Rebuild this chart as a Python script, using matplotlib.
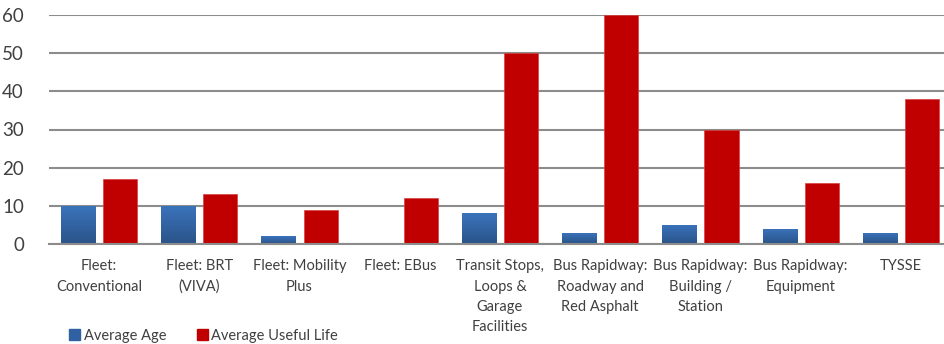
import matplotlib.pyplot as plt
import numpy as np
from matplotlib.colors import LinearSegmentedColormap
from matplotlib.patches import Patch

categories = ["Fleet:\nConventional", "Fleet: BRT\n(VIVA)", "Fleet: Mobility\nPlus",
              "Fleet: EBus", "Transit Stops,\nLoops &\nGarage\nFacilities",
              "Bus Rapidway:\nRoadway and\nRed Asphalt", "Bus Rapidway:\nBuilding /\nStation",
              "Bus Rapidway:\nEquipment", "TYSSE"]
average_age = [10, 10, 2, 0, 8, 3, 5, 4, 3]
useful_life = [17, 13, 9, 12, 50, 60, 30, 16, 38]
yticks = [0, 10, 20, 30, 40, 50, 60]

plt.rcParams['font.family'] = ['Lato', 'DejaVu Sans']

fig = plt.figure(figsize=(9.45, 3.44), dpi=100)
ax = fig.add_axes([49 / 945, 1 - 244 / 344, 902 / 945, 229 / 344])

x = np.arange(len(categories))
w = 0.34
off = 0.21

blue_grad = LinearSegmentedColormap.from_list("bg", ["#2a5388", "#3b74bd"])
age_bars = ax.bar(x - off, average_age, w, color="#2f61a3", zorder=3)
life_bars = ax.bar(x + off, useful_life, w, color="#c00000", zorder=3,
                   edgecolor="#d84040", linewidth=0.5)

# vertical shading on the blue bars
grad = np.linspace(0, 1, 256).reshape(-1, 1)
for b in age_bars:
    if b.get_height() <= 0:
        continue
    x0, y0 = b.get_x(), b.get_y()
    im = ax.imshow(grad, cmap=blue_grad, aspect="auto", origin="lower",
                   extent=(x0, x0 + b.get_width(), y0, y0 + b.get_height()), zorder=3.5)
    im.set_clip_path(b)

ax.set_xlim(-0.5, len(categories) - 0.5)
ax.set_ylim(0, 60)
ax.set_yticks(yticks)
ax.set_xticks(x)
ax.set_xticklabels(categories, fontsize=10.5, color="#404040", linespacing=1.58)
ax.tick_params(axis="y", length=0, pad=18, labelsize=13.5, labelcolor="#404040")
ax.tick_params(axis="x", length=0, pad=11)
ax.grid(axis="y", color="#8c8c8c", linewidth=1.5, zorder=0)
for s in ["top", "right", "left"]:
    ax.spines[s].set_visible(False)
ax.spines["bottom"].set_color("#8c8c8c")
ax.spines["bottom"].set_linewidth(1.5)
ax.spines["bottom"].set_zorder(4)

handles = [Patch(color="#2f61a3", label="Average Age"),
           Patch(color="#c00000", label="Average Useful Life")]
fig.legend(handles=handles, loc="lower left", bbox_to_anchor=(56 / 945, -0.035), ncol=2,
           frameon=False, fontsize=10.5, handlelength=0.75, handleheight=0.75,
           handletextpad=0.25, columnspacing=2.1, labelcolor="#404040")

fig.savefig("out.png", dpi=100)
